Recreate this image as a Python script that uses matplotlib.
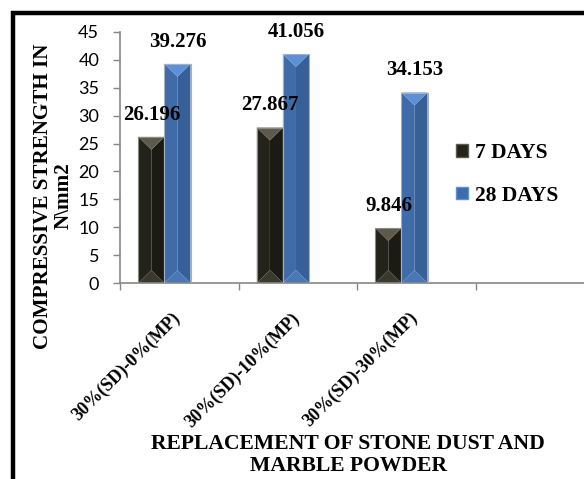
import matplotlib
matplotlib.use("Agg")
import matplotlib.pyplot as plt
from matplotlib.patches import Rectangle, Patch
from matplotlib.transforms import ScaledTranslation
import numpy as np

categories = ["30%(SD)-0%(MP)", "30%(SD)-10%(MP)", "30%(SD)-30%(MP)", ""]
series_names = ["7 DAYS", "28 DAYS"]
days7 = [26.196, 27.867, 9.846]
days28 = [39.276, 41.056, 34.153]
yticks = [0, 5, 10, 15, 20, 25, 30, 35, 40, 45]

W, H = 584, 479
fig = plt.figure(figsize=(W / 100, H / 100), dpi=100)
fig.patch.set_facecolor("white")

# axes extends beyond the right edge (cropped like the reference)
ax = fig.add_axes([120 / W, 1 - 283 / H, 474 / W, (283 - 32) / H])
ax.set_xlim(-0.5, len(categories) - 0.5)
ax.set_ylim(0, 45)

serif = "Liberation Serif"
bw = 0.22
off = -0.125
bevel = 2.3  # data units ~ 13px

dark = dict(left="#24231a", right="#1c1b13", top="#5b5a4c", bottom="#3a392e", edge="#8a8a80")
blue = dict(left="#3f6ba9", right="#375f98", top="#5d90d6", bottom="#4a78b6", edge="#a6b0bc")


def bevel_bar(x0, x1, h, c):
    xc = (x0 + x1) / 2
    d = min(bevel, h / 2.5)
    ax.fill([x0, xc, xc, x0], [h, h - d, d, 0], color=c["left"], lw=0, zorder=2)
    ax.fill([x1, xc, xc, x1], [h, h - d, d, 0], color=c["right"], lw=0, zorder=2)
    ax.fill([x0, x1, xc], [h, h, h - d], color=c["top"], lw=0, zorder=2)
    ax.fill([x0, x1, xc], [0, 0, d], color=c["bottom"], lw=0, zorder=2)
    ax.add_patch(Rectangle((x0, 0), x1 - x0, h, fill=False, ec=c["edge"], lw=0.8, zorder=3))


for i, (a, b) in enumerate(zip(days7, days28)):
    c = i + off
    bevel_bar(c - bw, c, a, dark)
    bevel_bar(c, c + bw, b, blue)
    ax.annotate(f"{a:.3f}", (c - bw / 2, a), xytext=(0, 16), textcoords="offset points",
                ha="center", va="center", fontsize=15, fontweight="bold", family=serif, zorder=5)
    ax.annotate(f"{b:.3f}", (c + bw / 2, b), xytext=(0, 16), textcoords="offset points",
                ha="center", va="center", fontsize=15, fontweight="bold", family=serif, zorder=5)

for s in ["top", "right"]:
    ax.spines[s].set_visible(False)
for s in ["left", "bottom"]:
    ax.spines[s].set_color("#868686")
    ax.spines[s].set_linewidth(1.2)

ax.set_yticks(yticks)
ax.set_yticklabels([str(v) for v in yticks], family="Lato", fontsize=13)
ax.tick_params(axis="y", direction="out", length=5, width=1, color="#868686", pad=10)

ax.set_xticks(range(len(categories)))
ax.set_xticklabels(categories, rotation=45, ha="right", va="top", family=serif,
                   fontweight="bold", fontsize=13.1)
ax.tick_params(axis="x", which="major", length=0, pad=19)
shift = ScaledTranslation(5 / 100, 0, fig.dpi_scale_trans)
for lab in ax.get_xticklabels():
    lab.set_transform(lab.get_transform() + shift)
ax.set_xticks(np.arange(-0.5, len(categories)), minor=True)
ax.tick_params(axis="x", which="minor", direction="out", length=5, width=1, color="#868686")

# axis titles
fig.text(53 / W, 1 - 196 / H, "COMPRESSIVE STRENGTH IN\nN\\mm2", rotation=90, ha="center",
         va="center", family=serif, fontweight="bold", fontsize=15.2, linespacing=1.05,
         multialignment="center")
fig.text(348 / W, 1 - 455 / H, "REPLACEMENT OF STONE DUST AND\nMARBLE POWDER", ha="center",
         va="center", family=serif, fontweight="bold", fontsize=15.6, linespacing=1.12,
         multialignment="center")

handles = [Patch(facecolor=dark["left"], edgecolor=dark["top"], lw=1),
           Patch(facecolor=blue["left"], edgecolor=blue["top"], lw=1)]
leg = ax.legend(handles, series_names, loc="upper left", bbox_to_anchor=(456 / W, 1 - 143 / H),
                bbox_transform=fig.transFigure, frameon=False, handlelength=0.55, handleheight=0.55,
                handletextpad=0.35, labelspacing=1.05, borderpad=0, borderaxespad=0,
                prop=dict(family=serif, weight="bold", size=15.5))

# outer chart border (cropped on right and bottom)
fig.add_artist(Rectangle((12.5 / W, -0.2), 1.5, 1 - 12.5 / H + 0.2, transform=fig.transFigure,
                         fill=False, ec="black", lw=3.2, clip_on=False))

fig.savefig("out.png", dpi=100)
